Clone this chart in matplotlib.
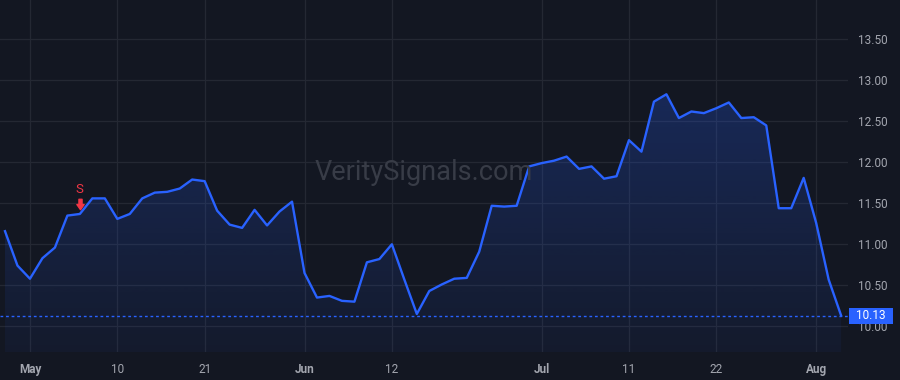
import numpy as np
import pandas as pd
import matplotlib
matplotlib.use("Agg")
import matplotlib.pyplot as plt
from matplotlib.path import Path
from matplotlib.patches import Rectangle
import matplotlib.transforms as mtransforms

# ---------------- data ----------------
holidays = ["2024-05-27", "2024-06-19", "2024-07-04"]
dates = pd.bdate_range("2024-04-29", "2024-08-05", freq="C", holidays=holidays)

prices = [11.16, 10.74, 10.58, 10.83, 10.96, 11.35, 11.37, 11.56, 11.56, 11.31, 11.37, 11.56,
          11.63, 11.64, 11.68, 11.79, 11.77, 11.41, 11.24, 11.20, 11.42, 11.23, 11.40, 11.52,
          10.65, 10.35, 10.37, 10.31, 10.30, 10.78, 10.82, 11.00, 10.57, 10.15,
          10.43, 10.51, 10.58, 10.59, 10.91, 11.47, 11.46, 11.47, 11.95, 11.99, 12.02,
          12.07, 11.92, 11.95, 11.80, 11.83, 12.27, 12.13, 12.74, 12.83, 12.54, 12.62, 12.60,
          12.66, 12.73, 12.54, 12.55, 12.45, 11.44, 11.44, 11.81, 11.26, 10.57, 10.13]

tick_dates = ["2024-05-01", "2024-05-10", "2024-05-21", "2024-06-03", "2024-06-12",
              "2024-07-01", "2024-07-11", "2024-07-22", "2024-08-01"]
tick_labels = ["May", "10", "21", "Jun", "12", "Jul", "11", "22", "Aug"]
month_labels = ["May", "Jun", "Jul", "Aug"]

y_ticks = [10.00, 10.50, 11.00, 11.50, 12.00, 12.50, 13.00, 13.50]

signal_dates = ["2024-05-07"]
signal_labels = ["S"]

watermark = "VeritySignals.com"

# ---------------- style ----------------
BG = "#131722"
GRID = "#242833"
BLUE = "#2962ff"
RED = "#f23645"
TXT = "#a3a6af"

plt.rcParams["font.family"] = ["Roboto", "DejaVu Sans"]

fig = plt.figure(figsize=(9, 3.8), dpi=100, facecolor=BG)
ax = fig.add_axes([0.0, 1 - 352 / 380, 848 / 900, 352 / 380])
ax.set_facecolor(BG)

x = np.arange(len(prices))
y = np.array(prices)
date_index = {d.strftime("%Y-%m-%d"): i for i, d in enumerate(dates)}

ymin, ymax = 9.686, 13.98
ax.set_xlim(-0.4, 67.55)
ax.set_ylim(ymin, ymax)

# gradient fill under line
poly = ax.fill_between(x, y, ymin, facecolor="none", edgecolor="none")
clip = poly.get_paths()[0]
n = 256
grad = np.zeros((n, 1, 4))
grad[:, 0, 0] = 41 / 255
grad[:, 0, 1] = 98 / 255
grad[:, 0, 2] = 1.0
grad[:, 0, 3] = np.linspace(0.05, 0.24, n)
im = ax.imshow(grad, extent=[x.min(), x.max(), ymin, y.max()], origin="lower",
               aspect="auto", zorder=1)
im.set_clip_path(clip, transform=ax.transData)

# line
ax.plot(x, y, color=BLUE, lw=1.7, zorder=3, solid_joinstyle="round")

# last price dotted line
last = prices[-1]
ax.axhline(last, color=BLUE, lw=1.0, ls=(0, (2, 2)), zorder=2)

# grid / ticks
tick_pos = [date_index[d] for d in tick_dates]
ax.set_xticks(tick_pos)
ax.set_xticklabels(tick_labels)
for lbl in ax.get_xticklabels():
    if lbl.get_text() in month_labels:
        lbl.set_fontweight("bold")
ax.set_yticks(y_ticks)
ax.set_yticklabels([f"{v:.2f}" for v in y_ticks])
ax.yaxis.tick_right()
ax.tick_params(axis="both", length=0, colors=TXT, labelsize=8.5)
ax.tick_params(axis="x", pad=8)
ax.tick_params(axis="y", pad=7)
ax.grid(True, color=GRID, lw=0.9, zorder=0)
ax.set_axisbelow(True)
for s in ax.spines.values():
    s.set_visible(False)

# watermark
fig.text(424 / 900, 1 - 172 / 380, watermark, color="#383c47", fontsize=19.5,
         ha="center", va="center", zorder=0)

# signal markers
arrow_verts = [(-0.3, 1), (0.3, 1), (0.3, 0), (0.7, 0), (0, -1), (-0.7, 0), (-0.3, 0), (-0.3, 1)]
arrow_codes = [Path.MOVETO] + [Path.LINETO] * 6 + [Path.CLOSEPOLY]
arrow_marker = Path(arrow_verts, arrow_codes)
for d, lab in zip(signal_dates, signal_labels):
    i = date_index[d]
    tr_a = mtransforms.offset_copy(ax.transData, fig=fig, x=0, y=10, units="dots")
    ax.plot([i], [prices[i]], marker=arrow_marker, markersize=7.5, color=RED,
            transform=tr_a, zorder=5, lw=0)
    tr_t = mtransforms.offset_copy(ax.transData, fig=fig, x=0, y=24, units="dots")
    ax.text(i, prices[i], lab, color=RED, fontsize=9.5, ha="center", va="center",
            transform=tr_t, zorder=5)

# last price label box
blend = mtransforms.blended_transform_factory(fig.transFigure, ax.transData)
box_h = 16 / 82
ax.add_patch(Rectangle((849 / 900, last - box_h / 2), 44 / 900, box_h, transform=blend,
                       facecolor=BLUE, edgecolor="none", clip_on=False, zorder=10))
ax.text(871 / 900, last, f"{last:.2f}", transform=blend, color="white", fontsize=8.5,
        ha="center", va="center", clip_on=False, zorder=11)

fig.savefig("out.png", dpi=100, facecolor=BG)
